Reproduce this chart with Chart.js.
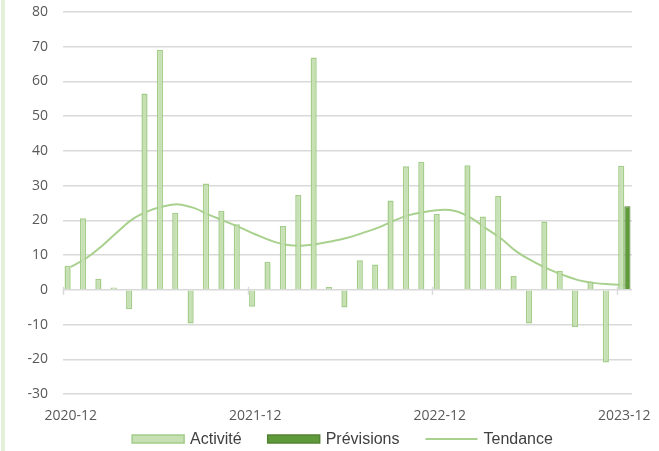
<!DOCTYPE html>
<html>
<head>
<meta charset="utf-8">
<script src="https://cdn.jsdelivr.net/npm/chart.js@4/dist/chart.umd.min.js"></script>
<style>
  html, body { margin: 0; padding: 0; background: #fff; }
  #wrap { position: relative; width: 659px; height: 451px; }
  #edge { position: absolute; left: 1px; top: 0; width: 4px; height: 451px; background: #e2efd9; }
  canvas { position: absolute; left: 0; top: 0; }
</style>
</head>
<body>
<div id="wrap">
  <div id="edge"></div>
  <canvas id="activite" width="659" height="451"></canvas>
</div>
<script>
// mois de 2020-12 à 2023-12
const months = [
  '2020-12', '2021-01', '2021-02', '2021-03', '2021-04', '2021-05', '2021-06', '2021-07', '2021-08', '2021-09', '2021-10', '2021-11',
  '2021-12', '2022-01', '2022-02', '2022-03', '2022-04', '2022-05', '2022-06', '2022-07', '2022-08', '2022-09', '2022-10', '2022-11',
  '2022-12', '2023-01', '2023-02', '2023-03', '2023-04', '2023-05', '2023-06', '2023-07', '2023-08', '2023-09', '2023-10', '2023-11',
  '2023-12'
];
const activite = [
  6.9, 20.6, 3.2, 0.7, -5.6, 56.5, 69.1, 22.2, -9.7, 30.6, 22.8, 18.9,
  -4.9, 8.1, 18.4, 27.3, 66.9, 0.8, -5.1, 8.5, 7.3, 25.7, 35.6, 36.9,
  21.8, -0.3, 35.9, 21.1, 27.0, 4.0, -9.7, 19.7, 5.5, -10.7, 2.3, -20.9,
  35.7
];
const previsions = [
  null, null, null, null, null, null, null, null, null, null, null, null,
  null, null, null, null, null, null, null, null, null, null, null, null,
  null, null, null, null, null, null, null, null, null, null, null, null,
  24.1
];
const tendance = [
  6.6, 9.1, 12.5, 16.5, 20.3, 22.6, 24.0, 24.6, 23.6, 21.6, 19.8, 18.0,
  16.0, 14.2, 13.0, 12.7, 13.2, 14.0, 15.0, 16.4, 17.9, 19.9, 21.5, 22.4,
  23.0, 22.7, 20.8, 17.7, 14.7, 11.0, 8.3, 6.1, 4.3, 2.8, 2.0, 1.6,
  1.4
];
const yTicks = [-30, -20, -10, 0, 10, 20, 30, 40, 50, 60, 70, 80];

// petits traits sur l'axe à zéro, tous les 12 mois
const zeroTicks = {
  id: 'zeroTicks',
  afterDatasetsDraw(chart) {
    const x = chart.scales.x, y = chart.scales.y;
    const y0 = y.getPixelForValue(0);
    const half = (x.getPixelForValue(1) - x.getPixelForValue(0)) / 2;
    const c = chart.ctx;
    c.save();
    c.strokeStyle = '#d9d9d9';
    c.lineWidth = 1.5;
    for (let i = 0; i < months.length; i += 12) {
      const px = Math.round(x.getPixelForValue(i) - half) + 0.5;
      c.beginPath();
      c.moveTo(px, y0 - 3);
      c.lineTo(px, y0 + 5);
      c.stroke();
    }
    c.restore();
  }
};

// légende dessinée à la main, sous l'axe (style Excel)
const bottomLegend = {
  id: 'bottomLegend',
  afterDraw(chart) {
    const c = chart.ctx;
    const sets = chart.data.datasets;
    const boxW = 52, boxH = 8, gap = 6, space = 26;
    c.save();
    c.font = '16px "Liberation Sans", Arial, sans-serif';
    const widths = sets.map(ds => boxW + gap + c.measureText(ds.label).width);
    const total = widths.reduce((a, b) => a + b, 0) + space * (sets.length - 1);
    const area = chart.chartArea;
    let x = (area.left + area.right) / 2 - 5 - total / 2;
    const cy = chart.height - 12;
    sets.forEach((ds, i) => {
      if (ds.type === 'line') {
        c.strokeStyle = ds.borderColor;
        c.lineWidth = 2;
        c.beginPath();
        c.moveTo(x, cy);
        c.lineTo(x + boxW, cy);
        c.stroke();
      } else {
        c.fillStyle = ds.backgroundColor;
        c.fillRect(x, cy - boxH / 2, boxW, boxH);
        c.strokeStyle = ds.borderColor;
        c.lineWidth = 1.5;
        c.strokeRect(x, cy - boxH / 2, boxW, boxH);
      }
      c.fillStyle = '#404040';
      c.textBaseline = 'middle';
      c.fillText(ds.label, x + boxW + gap, cy + 1);
      x += widths[i] + space;
    });
    c.restore();
  }
};

new Chart(document.getElementById('activite'), {
  type: 'bar',
  data: {
    labels: months,
    datasets: [{
      label: 'Activité',
      data: activite,
      backgroundColor: '#c6e0b4',
      borderColor: '#a3cd89',
      borderWidth: 1.5,
      categoryPercentage: 0.8,
      barPercentage: 1.0
    }, {
      label: 'Prévisions',
      data: previsions,
      backgroundColor: '#5e9a39',
      borderColor: '#548235',
      borderWidth: 1,
      categoryPercentage: 0.8,
      barPercentage: 1.0
    }, {
      type: 'line',
      label: 'Tendance',
      data: tendance,
      borderColor: '#a9d18e',
      backgroundColor: '#a9d18e',
      borderWidth: 2,
      pointRadius: 0,
      tension: 0.4,
      fill: false
    }]
  },
  options: {
    responsive: false,
    animation: false,
    layout: {
      padding: { top: 12, right: 27, bottom: 25, left: 0 }
    },
    plugins: {
      tooltip: { enabled: false },
      legend: { display: false }
    },
    scales: {
      x: {
        offset: true,
        grid: { display: false },
        border: { display: false },
        afterFit(scale) { scale.height = 32; },
        ticks: {
          autoSkip: false,
          maxRotation: 0,
          padding: 6,
          color: '#595959',
          font: { family: 'Open Sans, sans-serif', size: 14 },
          callback(value, index) {
            return index % 12 === 0 ? months[index] : '';
          }
        }
      },
      y: {
        min: yTicks[0],
        max: yTicks[yTicks.length - 1],
        afterFit(scale) { scale.width = 63; },
        afterBuildTicks(scale) {
          scale.ticks = yTicks.map(v => ({ value: v }));
        },
        grid: { color: '#d9d9d9', lineWidth: 1.5, drawTicks: true, tickLength: 12, tickColor: 'rgba(0,0,0,0)' },
        border: { display: false },
        ticks: {
          padding: 3,
          color: '#595959',
          font: { family: 'Open Sans, sans-serif', size: 14 }
        }
      }
    }
  },
  plugins: [zeroTicks, bottomLegend]
});
</script>
</body>
</html>
